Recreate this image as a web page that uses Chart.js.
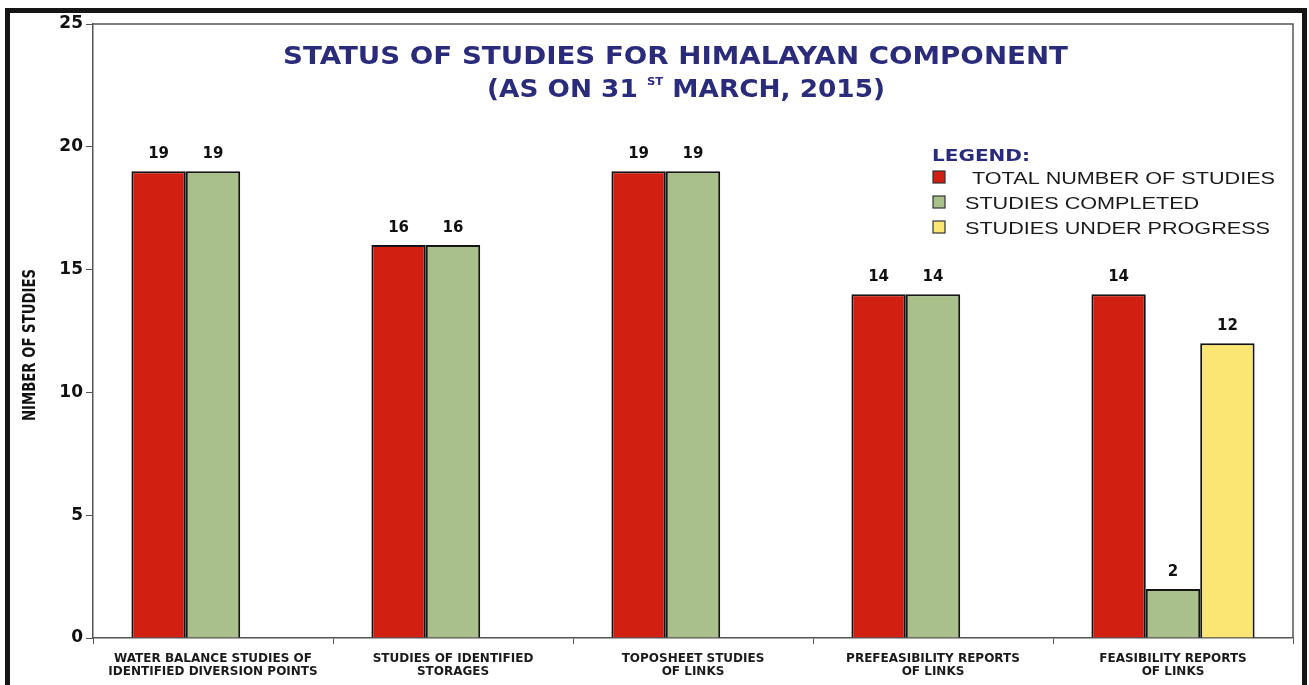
<!DOCTYPE html>
<html lang="en">
<head>
    <meta charset="UTF-8">
    <title>Status of Studies for Himalayan Component</title>
    <script src="https://cdn.jsdelivr.net/npm/chart.js"></script>
    <style>
        html, body {
            margin: 0;
            padding: 0;
            background: #ffffff;
        }
        .wrap {
            position: relative;
            width: 1309px;
            height: 685px;
        }
    </style>
</head>
<body>
    <div class="wrap">
        <canvas id="studiesChart" width="1309" height="685"></canvas>
    </div>

    <script>
        // data
        const categories = [
            ['WATER BALANCE STUDIES OF', 'IDENTIFIED DIVERSION POINTS'],
            ['STUDIES OF IDENTIFIED', 'STORAGES'],
            ['TOPOSHEET STUDIES', 'OF LINKS'],
            ['PREFEASIBILITY REPORTS', 'OF LINKS'],
            ['FEASIBILITY REPORTS', 'OF LINKS']
        ];
        const totalStudies = [19, 16, 19, 14, 14];
        const completedStudies = [19, 16, 19, 14, 2];
        const underProgress = [null, null, null, null, 12];
        const seriesNames = ['TOTAL NUMBER OF STUDIES', 'STUDIES COMPLETED', 'STUDIES UNDER PROGRESS'];
        const yTicks = [0, 5, 10, 15, 20, 25];
        const yTitle = 'NIMBER OF STUDIES';

        const navy = '#2b2b7c';
        const axisGrey = '#555555';

        // text squeezed or stretched to a given width
        function fitText(ctx, text, x, y, width) {
            const w = ctx.measureText(text).width;
            ctx.save();
            ctx.translate(x, y);
            ctx.scale(width / w, 1);
            ctx.fillText(text, 0, 0);
            ctx.restore();
        }

        // frame, plot box, title, legend and bar values
        const decorPlugin = {
            id: 'decor',
            beforeDraw(chart) {
                const ctx = chart.ctx;
                ctx.save();
                ctx.fillStyle = '#ffffff';
                ctx.fillRect(0, 0, chart.width, chart.height);
                // outer black frame
                ctx.strokeStyle = '#151515';
                ctx.lineWidth = 5;
                ctx.beginPath();
                ctx.moveTo(7.5, chart.height);
                ctx.lineTo(7.5, 10.5);
                ctx.lineTo(1304.5, 10.5);
                ctx.lineTo(1304.5, chart.height);
                ctx.stroke();
                ctx.restore();
            },
            afterDraw(chart) {
                const ctx = chart.ctx;
                const a = chart.chartArea;
                ctx.save();
                // top and right of plot box
                ctx.strokeStyle = axisGrey;
                ctx.lineWidth = 1.5;
                ctx.beginPath();
                ctx.moveTo(a.left, a.top);
                ctx.lineTo(a.right, a.top);
                ctx.lineTo(a.right, a.bottom);
                ctx.stroke();

                // y axis title, narrow and bold
                ctx.save();
                ctx.translate(35, 345);
                ctx.rotate(-Math.PI / 2);
                ctx.fillStyle = '#111111';
                ctx.font = 'bold 17px "DejaVu Sans"';
                ctx.textAlign = 'left';
                ctx.textBaseline = 'alphabetic';
                fitText(ctx, yTitle, -76, 0, 152);
                ctx.restore();

                // title
                ctx.fillStyle = navy;
                ctx.textBaseline = 'alphabetic';
                ctx.textAlign = 'left';
                ctx.font = 'bold 25px "DejaVu Sans"';
                fitText(ctx, 'STATUS OF STUDIES FOR HIMALAYAN COMPONENT', 283, 64, 785);

                // second line with superscript
                const partA = '(AS ON 31 ';
                const partB = 'ST';
                const partC = ' MARCH, 2015)';
                ctx.font = 'bold 25px "DejaVu Sans"';
                const wa = ctx.measureText(partA).width;
                const wc = ctx.measureText(partC).width;
                ctx.font = 'bold 11px "DejaVu Sans"';
                const wb = ctx.measureText(partB).width;
                const sx = 398 / (wa + wb + wc);
                ctx.save();
                ctx.translate(487, 97);
                ctx.scale(sx, 1);
                ctx.font = 'bold 25px "DejaVu Sans"';
                ctx.fillText(partA, 0, 0);
                ctx.font = 'bold 11px "DejaVu Sans"';
                ctx.fillText(partB, wa, -12);
                ctx.font = 'bold 25px "DejaVu Sans"';
                ctx.fillText(partC, wa + wb, 0);
                ctx.restore();

                // legend
                ctx.font = 'bold 15px "DejaVu Sans"';
                ctx.fillStyle = navy;
                fitText(ctx, 'LEGEND:', 932, 161, 98);
                const rows = [177, 202, 227];
                const starts = [972, 965, 965];
                ctx.font = '17px "Liberation Sans"';
                const scaleX = 305 / ctx.measureText(seriesNames[2]).width;
                chart.data.datasets.forEach((ds, i) => {
                    const y = rows[i];
                    ctx.fillStyle = ds.backgroundColor;
                    ctx.fillRect(933, y - 6, 12, 12);
                    ctx.strokeStyle = '#333333';
                    ctx.lineWidth = 1.2;
                    ctx.strokeRect(933, y - 6, 12, 12);
                    ctx.fillStyle = '#1a1a1a';
                    ctx.font = '17px "Liberation Sans"';
                    const w = ctx.measureText(ds.label).width * scaleX;
                    fitText(ctx, ds.label, starts[i], y + 7, w);
                });

                // values above bars
                ctx.fillStyle = '#111111';
                ctx.font = 'bold 15px "DejaVu Sans"';
                ctx.textAlign = 'center';
                ctx.textBaseline = 'alphabetic';
                chart.data.datasets.forEach((ds, i) => {
                    const meta = chart.getDatasetMeta(i);
                    meta.data.forEach((bar, j) => {
                        const v = ds.data[j];
                        if (v === null || v === undefined) return;
                        ctx.fillText(String(v), bar.x, bar.y - 13);
                    });
                });
                ctx.restore();
            }
        };

        const ctx = document.getElementById('studiesChart').getContext('2d');
        new Chart(ctx, {
            type: 'bar',
            data: {
                labels: categories,
                datasets: [
                    {
                        label: seriesNames[0],
                        data: totalStudies,
                        backgroundColor: '#d11f12',
                        borderColor: '#141414',
                        borderWidth: 2
                    },
                    {
                        label: seriesNames[1],
                        data: completedStudies,
                        backgroundColor: '#a9c08b',
                        borderColor: '#141414',
                        borderWidth: 2
                    },
                    {
                        label: seriesNames[2],
                        data: underProgress,
                        backgroundColor: '#fce673',
                        borderColor: '#141414',
                        borderWidth: 2
                    }
                ]
            },
            options: {
                responsive: false,
                animation: false,
                devicePixelRatio: 1,
                layout: {
                    padding: { left: 0, right: 16, top: 24, bottom: 0 }
                },
                plugins: {
                    legend: { display: false },
                    tooltip: { enabled: false }
                },
                datasets: {
                    bar: {
                        categoryPercentage: 0.68,
                        barPercentage: 1.0
                    }
                },
                scales: {
                    x: {
                        offset: true,
                        grid: {
                            offset: true,
                            drawOnChartArea: false,
                            drawTicks: true,
                            tickLength: 6,
                            color: axisGrey
                        },
                        border: { color: axisGrey, width: 1.5 },
                        ticks: {
                            color: '#1a1a1a',
                            font: { family: 'DejaVu Sans', weight: 'bold', size: 12, lineHeight: 1.1 },
                            padding: 8,
                            maxRotation: 0,
                            autoSkip: false
                        },
                        afterFit(scale) { scale.height = 47; }
                    },
                    y: {
                        min: 0,
                        max: 25,
                        afterBuildTicks(scale) {
                            scale.ticks = yTicks.map(v => ({ value: v }));
                        },
                        grid: {
                            drawOnChartArea: false,
                            drawTicks: true,
                            tickLength: 7,
                            color: axisGrey
                        },
                        border: { color: axisGrey, width: 1.5 },
                        ticks: {
                            color: '#111111',
                            font: { family: 'DejaVu Sans', weight: 'bold', size: 17 },
                            padding: 3
                        },
                        afterFit(scale) { scale.width = 93; }
                    }
                }
            },
            plugins: [decorPlugin]
        });
    </script>
</body>
</html>
